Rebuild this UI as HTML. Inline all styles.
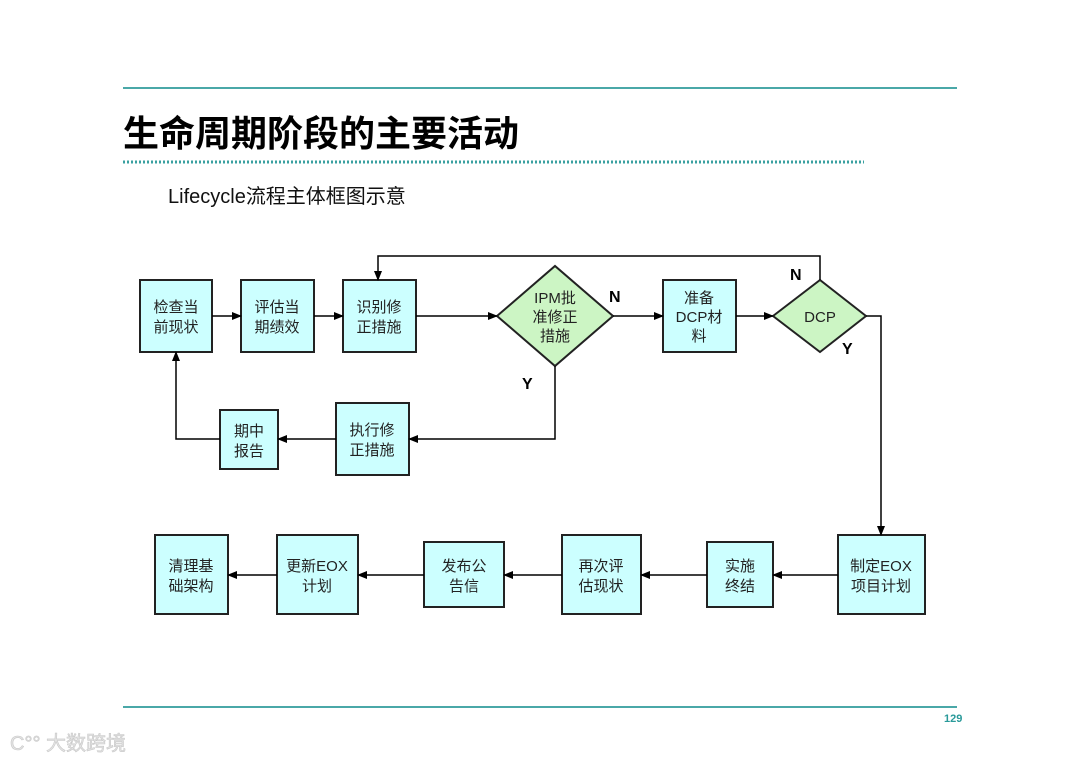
<!DOCTYPE html>
<html><head><meta charset="utf-8"><style>
body{margin:0;background:#fff;}
svg text{font-family:"Liberation Sans","Noto Sans CJK SC",sans-serif;}
</style></head><body>
<svg width="1080" height="763" viewBox="0 0 1080 763" xmlns="http://www.w3.org/2000/svg">
<defs><marker id="a" markerWidth="10" markerHeight="10" refX="9" refY="5" orient="auto" markerUnits="userSpaceOnUse"><path d="M0,1 L10,5 L0,9 z" fill="#000"/></marker></defs>
<line x1="123" y1="88" x2="957" y2="88" stroke="#4aa8a8" stroke-width="2"/>
<text x="123" y="146" font-size="36" font-weight="bold" fill="#000">生命周期阶段的主要活动</text>
<line x1="123" y1="162" x2="864" y2="162" stroke="#3aa0a0" stroke-width="3" stroke-dasharray="2,2"/>
<text x="168" y="203" font-size="20" fill="#111">Lifecycle流程主体框图示意</text>
<g fill="#ccffff" stroke="#222" stroke-width="2">
<rect x="140" y="280" width="72" height="72"/>
<rect x="241" y="280" width="73" height="72"/>
<rect x="343" y="280" width="73" height="72"/>
<rect x="663" y="280" width="73" height="72"/>
<rect x="220" y="410" width="58" height="59"/>
<rect x="336" y="403" width="73" height="72"/>
<rect x="838" y="535" width="87" height="79"/>
<rect x="707" y="542" width="66" height="65"/>
<rect x="562" y="535" width="79" height="79"/>
<rect x="424" y="542" width="80" height="65"/>
<rect x="277" y="535" width="81" height="79"/>
<rect x="155" y="535" width="73" height="79"/>
</g>
<g fill="#ccf5c4" stroke="#222" stroke-width="2">
<polygon points="497,316 555,266 613,316 555,366"/>
<polygon points="773,316 820,280 866,316 820,352"/>
</g>
<g fill="none" stroke="#000" stroke-width="1.5">
<line x1="212" y1="316" x2="241" y2="316" marker-end="url(#a)"/>
<line x1="314" y1="316" x2="343" y2="316" marker-end="url(#a)"/>
<line x1="416" y1="316" x2="497" y2="316" marker-end="url(#a)"/>
<line x1="613" y1="316" x2="663" y2="316" marker-end="url(#a)"/>
<line x1="736" y1="316" x2="773" y2="316" marker-end="url(#a)"/>
<polyline points="820,280 820,256 378,256 378,280" marker-end="url(#a)"/>
<polyline points="866,316 881,316 881,535" marker-end="url(#a)"/>
<polyline points="555,366 555,439 409,439" marker-end="url(#a)"/>
<line x1="336" y1="439" x2="278" y2="439" marker-end="url(#a)"/>
<polyline points="220,439 176,439 176,352" marker-end="url(#a)"/>
<line x1="838" y1="575" x2="773" y2="575" marker-end="url(#a)"/>
<line x1="707" y1="575" x2="641" y2="575" marker-end="url(#a)"/>
<line x1="562" y1="575" x2="504" y2="575" marker-end="url(#a)"/>
<line x1="424" y1="575" x2="358" y2="575" marker-end="url(#a)"/>
<line x1="277" y1="575" x2="228" y2="575" marker-end="url(#a)"/>
</g>
<g font-size="15" fill="#222" text-anchor="middle">
<text x="176" y="312">检查当</text><text x="176" y="332">前现状</text>
<text x="277" y="312">评估当</text><text x="277" y="332">期绩效</text>
<text x="379" y="312">识别修</text><text x="379" y="332">正措施</text>
<text x="555" y="303">IPM批</text><text x="555" y="322">准修正</text><text x="555" y="341">措施</text>
<text x="699" y="303">准备</text><text x="699" y="322">DCP材</text><text x="699" y="341">料</text>
<text x="820" y="322">DCP</text>
<text x="249" y="436">期中</text><text x="249" y="456">报告</text>
<text x="372" y="435">执行修</text><text x="372" y="455">正措施</text>
<text x="881" y="571">制定EOX</text><text x="881" y="591">项目计划</text>
<text x="740" y="571">实施</text><text x="740" y="591">终结</text>
<text x="601" y="571">再次评</text><text x="601" y="591">估现状</text>
<text x="464" y="571">发布公</text><text x="464" y="591">告信</text>
<text x="317" y="571">更新EOX</text><text x="317" y="591">计划</text>
<text x="191" y="571">清理基</text><text x="191" y="591">础架构</text>
</g>
<g font-size="16" font-weight="bold" fill="#000">
<text x="609" y="302">N</text>
<text x="790" y="280">N</text>
<text x="842" y="354">Y</text>
<text x="522" y="389">Y</text>
</g>
<line x1="123" y1="707" x2="957" y2="707" stroke="#4aa8a8" stroke-width="2"/>
<text x="944" y="722" font-size="11" font-weight="bold" fill="#2a9a9a">129</text>
<text x="10" y="750" font-size="20" fill="#e4e4e4" stroke="#c8c8c8" stroke-width="0.6">C°° 大数跨境</text>
</svg>
</body></html>
